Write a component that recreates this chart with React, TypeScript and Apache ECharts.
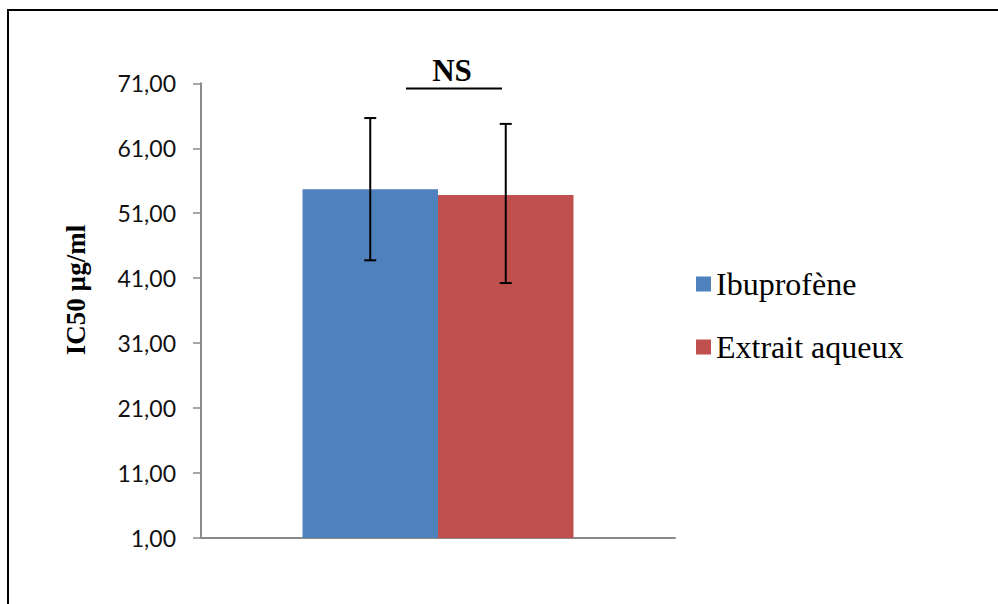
import React, { useEffect, useRef } from "react";
import * as echarts from "echarts";

const categories = [""];
const seriesNames = ["Ibuprofène", "Extrait aqueux"];
const ibuprofeneValues = [54.7];
const extraitValues = [53.8];
const ibuprofeneLow = [43.75];
const ibuprofeneHigh = [65.65];
const extraitLow = [40.25];
const extraitHigh = [64.75];
const yMin = 1;
const yMax = 71;
const yInterval = 10;
const yAxisTitle = "IC50 µg/ml";
const significanceLabel = "NS";

const BLUE = "#4F81BD";
const RED = "#C0504D";
const AXIS_GREY = "#8a8a8a";
const BAR_WIDTH = 135.5;

function errorSeries(low: number[], high: number[], offset: number) {
  return {
    type: "custom",
    silent: true,
    z: 10,
    data: low.map((l, i) => [i, l, high[i]]),
    encode: { x: 0, y: [1, 2] },
    renderItem: (params: any, api: any) => {
      const idx = api.value(0);
      const lo = api.coord([idx, api.value(1)]);
      const hi = api.coord([idx, api.value(2)]);
      const x = lo[0] + offset;
      const cap = 6;
      const style = { stroke: "#000", lineWidth: 2 };
      return {
        type: "group",
        children: [
          { type: "line", shape: { x1: x, y1: hi[1], x2: x, y2: lo[1] }, style },
          { type: "line", shape: { x1: x - cap, y1: hi[1], x2: x + cap, y2: hi[1] }, style },
          { type: "line", shape: { x1: x - cap, y1: lo[1], x2: x + cap, y2: lo[1] }, style },
        ],
      };
    },
  };
}

export default function App() {
  const ref = useRef<HTMLDivElement>(null);
  useEffect(() => {
    document.body.style.margin = "0";
    if (!ref.current) return;
    const chart = echarts.init(ref.current, undefined, { renderer: "svg" });
    const option: any = {
      animation: false,
      backgroundColor: "#ffffff",
      grid: { left: 201, right: 323, top: 83.3, bottom: 66 },
      legend: {
        data: seriesNames,
        orient: "vertical",
        left: 691,
        top: 263,
        itemGap: 31,
        itemWidth: 15,
        itemHeight: 15,
        icon: "rect",
        selectedMode: false,
        textStyle: {
          fontFamily: "'Liberation Serif', 'Times New Roman', serif",
          fontSize: 32,
          lineHeight: 32,
          color: "#000",
        },
      },
      xAxis: {
        type: "category",
        data: categories,
        axisLine: { show: true, lineStyle: { color: AXIS_GREY, width: 2 } },
        axisTick: { show: false },
        axisLabel: { show: false },
        splitLine: { show: false },
      },
      yAxis: {
        type: "value",
        min: yMin,
        max: yMax,
        interval: yInterval,
        axisLine: { show: true, lineStyle: { color: AXIS_GREY, width: 2 } },
        axisTick: { show: true, inside: false, length: 8, lineStyle: { color: AXIS_GREY, width: 1.5 } },
        axisLabel: {
          margin: 25,
          fontFamily: "Lato, 'Noto Sans', sans-serif",
          fontSize: 23,
          color: "#111",
          formatter: (v: number) => v.toFixed(2).replace(".", ","),
        },
        splitLine: { show: false },
      },
      series: [
        {
          name: seriesNames[0],
          type: "bar",
          data: ibuprofeneValues,
          barWidth: BAR_WIDTH,
          barGap: "0%",
          itemStyle: { color: BLUE },
        },
        {
          name: seriesNames[1],
          type: "bar",
          data: extraitValues,
          barWidth: BAR_WIDTH,
          barGap: "0%",
          itemStyle: { color: RED },
        },
        errorSeries(ibuprofeneLow, ibuprofeneHigh, -BAR_WIDTH / 2),
        errorSeries(extraitLow, extraitHigh, BAR_WIDTH / 2),
      ],
      graphic: [
        {
          type: "rect",
          shape: { x: 8, y: 10, width: 1200, height: 800 },
          style: { fill: "none", stroke: "#000", lineWidth: 2 },
          silent: true,
        },
        {
          type: "text",
          x: 76,
          y: 290,
          rotation: Math.PI / 2,
          style: {
            text: yAxisTitle,
            fontFamily: "'Liberation Serif', 'Times New Roman', serif",
            fontWeight: "bold",
            fontSize: 27,
            fill: "#000",
            textAlign: "center",
            textVerticalAlign: "middle",
          },
        },
        {
          type: "text",
          x: 452,
          y: 70,
          style: {
            text: significanceLabel,
            fontFamily: "'Liberation Serif', 'Times New Roman', serif",
            fontWeight: "bold",
            fontSize: 31,
            fill: "#000",
            textAlign: "center",
            textVerticalAlign: "middle",
          },
        },
        {
          type: "line",
          shape: { x1: 406, y1: 88.5, x2: 502, y2: 88.5 },
          style: { stroke: "#000", lineWidth: 2 },
        },
      ],
    };
    chart.setOption(option);
    return () => chart.dispose();
  }, []);
  return <div ref={ref} style={{ width: 998, height: 604 }} />;
}
